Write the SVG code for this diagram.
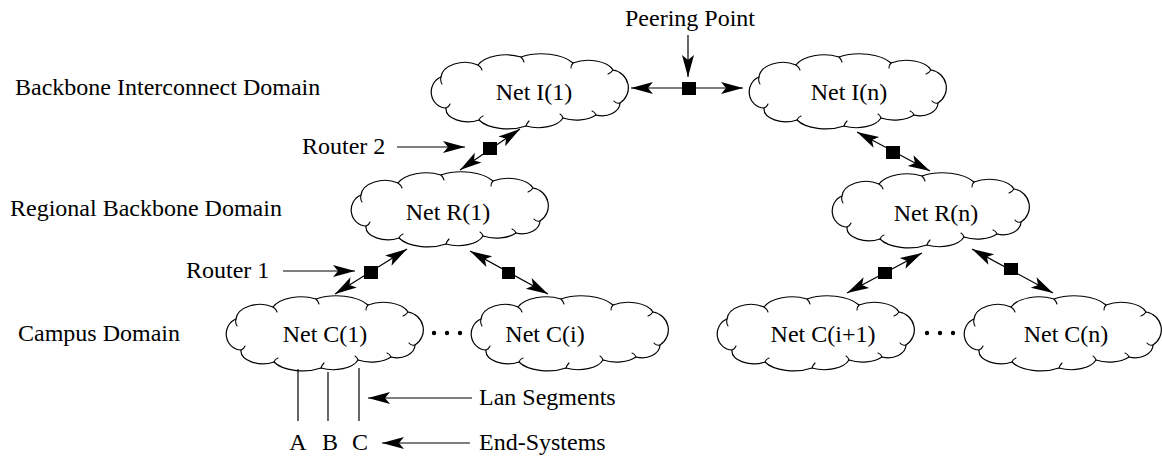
<svg xmlns="http://www.w3.org/2000/svg" xmlns:xlink="http://www.w3.org/1999/xlink" width="1162" height="458" viewBox="0 0 1162 458">
  <style>
    text { font-family: "Liberation Serif", "Times New Roman", serif; font-size: 24px; fill: #000; }
    .mid { text-anchor: middle; }
    .cloud { fill: none; stroke: #000; stroke-width: 1.2; stroke-linejoin: round; }
    .curl { fill: none; stroke: #000; stroke-width: 1.1; stroke-linecap: round; }
    .link { fill: none; stroke: #000; stroke-width: 1.2; }
    .both { marker-start: url(#arrow); marker-end: url(#arrow); }
    .one { marker-end: url(#arrow); }
    .router { fill: #000; }
    .seg { stroke: #000; stroke-width: 1.2; }
  </style>
  <defs>
    <!-- indented arrowhead, tip at the line end -->
    <marker id="arrow" viewBox="-24 -8 26 16" refX="0" refY="0" markerWidth="26" markerHeight="16" markerUnits="userSpaceOnUse" orient="auto-start-reverse">
      <path d="M0,0 L-22,-6 L-17,0 L-22,6 Z" fill="#000"/>
    </marker>
    <!-- scalloped cloud, box about 196 x 72 -->
    <g id="cloud">
      <path class="cloud" d="M9,22 A24,16 0 0 1 46,10 A30,16 0 0 1 89,2 A36,18 0 0 1 141,8 A26,14 0 0 1 181,15 A18,18 0 0 1 188,48 A18,13 0 0 1 164,60 A24,12 0 0 1 131,63 A26,14 0 0 1 94,71 A32,16 0 0 1 47,65 A22,13 0 0 1 14,53 A15,16 0 0 1 9,22 Z"/>
      <path class="curl" d="M9,22 q-1,4 1,7 M46,10 q3,2 4,5 M89,2 q2,2 3,5 M141,8 q-2,2 -2,5 M181,15 q-2,3 -5,4 M188,48 q-4,1 -6,-2 M164,60 q-1,-3 -4,-4 M131,63 q-1,-3 -3,-4 M94,71 q1,-3 3,-5 M47,65 q1,-3 4,-4 M14,53 q3,-1 4,-4"/>
    </g>
  </defs>

  <!-- domain labels -->
  <g id="labels">
    <text x="15" y="95">Backbone Interconnect Domain</text>
    <text x="10" y="216">Regional Backbone Domain</text>
    <text x="18" y="341">Campus Domain</text>
    <text x="625" y="26">Peering Point</text>
    <text x="302" y="154">Router 2</text>
    <text x="186" y="278">Router 1</text>
    <text x="479" y="405">Lan Segments</text>
    <text x="479" y="450">End-Systems</text>
  </g>

  <!-- networks -->
  <g id="net-i1">
    <use xlink:href="#cloud" x="432" y="55"/>
    <text class="mid" x="534" y="100">Net I(1)</text>
  </g>
  <g id="net-in">
    <use xlink:href="#cloud" x="750" y="55"/>
    <text class="mid" x="849" y="100">Net I(n)</text>
  </g>
  <g id="net-r1">
    <use xlink:href="#cloud" x="352" y="173"/>
    <text class="mid" x="448" y="220">Net R(1)</text>
  </g>
  <g id="net-rn">
    <use xlink:href="#cloud" x="833" y="174"/>
    <text class="mid" x="936" y="221">Net R(n)</text>
  </g>
  <g id="net-c1">
    <use xlink:href="#cloud" x="227" y="297"/>
    <text class="mid" x="325" y="342">Net C(1)</text>
  </g>
  <g id="net-ci">
    <use xlink:href="#cloud" x="472" y="297"/>
    <text class="mid" x="545" y="342">Net C(i)</text>
  </g>
  <g id="net-ci1">
    <use xlink:href="#cloud" x="718" y="297"/>
    <text class="mid" x="823" y="342">Net C(i+1)</text>
  </g>
  <g id="net-cn">
    <use xlink:href="#cloud" x="965" y="297"/>
    <text class="mid" x="1066" y="342">Net C(n)</text>
  </g>

  <!-- end systems -->
  <g id="end-systems">
    <line class="seg" x1="298" y1="369" x2="298" y2="421"/>
    <line class="seg" x1="328" y1="372" x2="328" y2="421"/>
    <line class="seg" x1="359" y1="368" x2="359" y2="421"/>
    <text class="mid" x="298" y="450">A</text>
    <text class="mid" x="330" y="450">B</text>
    <text class="mid" x="360" y="450">C</text>
  </g>

  <!-- ellipses between campus networks -->
  <g id="ellipses">
    <circle cx="434" cy="333" r="2.2"/>
    <circle cx="447" cy="333" r="2.2"/>
    <circle cx="460" cy="333" r="2.2"/>
    <circle cx="927" cy="333" r="2.2"/>
    <circle cx="940" cy="333" r="2.2"/>
    <circle cx="953" cy="333" r="2.2"/>
  </g>

  <!-- connectors -->
  <g id="connectors">
    <line class="link both" x1="631" y1="88" x2="743" y2="88"/>
    <line class="link both" x1="460" y1="170" x2="520" y2="129"/>
    <line class="link both" x1="857" y1="132" x2="930" y2="171"/>
    <line class="link both" x1="335" y1="294" x2="407" y2="249"/>
    <line class="link both" x1="470" y1="251" x2="548" y2="294"/>
    <line class="link both" x1="847" y1="293" x2="922" y2="253"/>
    <line class="link both" x1="972" y1="249" x2="1053" y2="293"/>
    <!-- pointer arrows from labels -->
    <line class="link one" x1="688" y1="35" x2="688" y2="77"/>
    <line class="link one" x1="397" y1="147" x2="465" y2="147"/>
    <line class="link one" x1="283" y1="271" x2="355" y2="271"/>
    <line class="link one" x1="472" y1="398" x2="368" y2="398"/>
    <line class="link one" x1="470" y1="443" x2="382" y2="443"/>
  </g>

  <!-- routers -->
  <g id="routers">
    <rect class="router" x="682" y="82" width="14" height="13"/>
    <rect class="router" x="483" y="142" width="14" height="13"/>
    <rect class="router" x="886" y="146" width="14" height="13"/>
    <rect class="router" x="364" y="266" width="14" height="13"/>
    <rect class="router" x="502" y="267" width="13" height="12"/>
    <rect class="router" x="878" y="267" width="14" height="12"/>
    <rect class="router" x="1004" y="263" width="14" height="12"/>
  </g>
</svg>
